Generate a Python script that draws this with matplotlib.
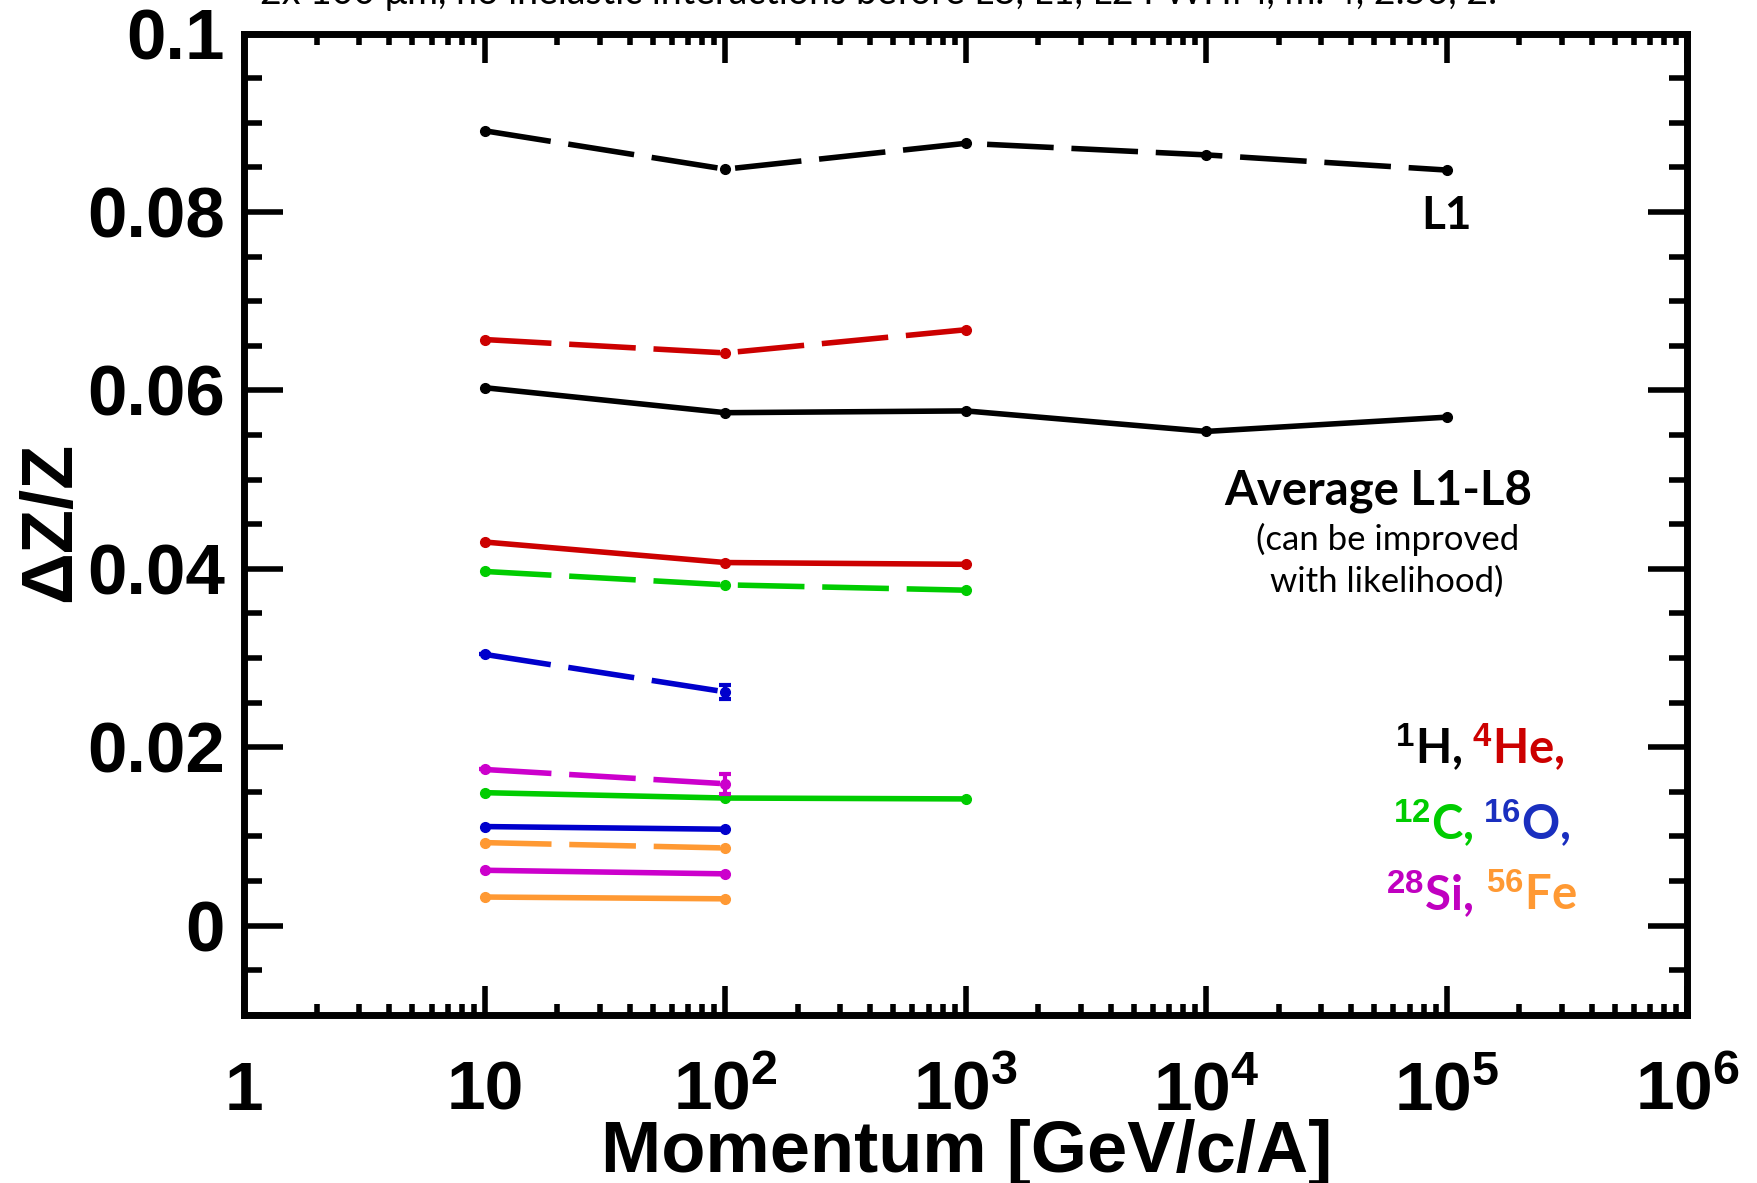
import matplotlib
matplotlib.use('Agg')
import matplotlib.pyplot as plt
from matplotlib.ticker import MultipleLocator, LogLocator

plt.rcParams['font.family'] = ['Liberation Sans', 'DejaVu Sans']
plt.rcParams['font.weight'] = 'bold'
plt.rcParams['mathtext.fontset'] = 'custom'
plt.rcParams['mathtext.rm'] = 'Liberation Sans:bold'
plt.rcParams['mathtext.bf'] = 'Liberation Sans:bold'
plt.rcParams['mathtext.it'] = 'Liberation Sans:bold'

momentum = [10, 100, 1e3, 1e4, 1e5]

# dZ/Z for L1 (dashed) and average L1-L8 (solid)
h_l1 = [0.0891, 0.0848, 0.0877, 0.0864, 0.0847]
h_avg = [0.0603, 0.0575, 0.0577, 0.0554, 0.0570]
he_l1 = [0.0657, 0.0642, 0.0668]
he_avg = [0.0430, 0.0407, 0.0405]
c_l1 = [0.0397, 0.0382, 0.0376]
c_avg = [0.0149, 0.0143, 0.0142]
o_l1 = [0.0304, 0.0262]
o_avg = [0.0111, 0.0108]
si_l1 = [0.0175, 0.0159]
si_avg = [0.0062, 0.0058]
fe_l1 = [0.0093, 0.0087]
fe_avg = [0.0032, 0.0030]

o_l1_err = [0.0, 0.0008]
si_l1_err = [0.0, 0.0011]

xtick_pos = [1, 10, 1e2, 1e3, 1e4, 1e5, 1e6]
xtick_labels = ['1', '10', r'$\mathbf{10^{2}}$', r'$\mathbf{10^{3}}$',
                r'$\mathbf{10^{4}}$', r'$\mathbf{10^{5}}$', r'$\mathbf{10^{6}}$']

series = [
    (h_l1, '#000000', 'dash', None),
    (h_avg, '#000000', 'solid', None),
    (he_l1, '#cc0000', 'dash', None),
    (he_avg, '#cc0000', 'solid', None),
    (c_l1, '#00cc00', 'dash', None),
    (c_avg, '#00cc00', 'solid', None),
    (o_l1, '#0000cc', 'dash', o_l1_err),
    (o_avg, '#0000cc', 'solid', None),
    (si_l1, '#cc00cc', 'dash', si_l1_err),
    (si_avg, '#cc00cc', 'solid', None),
    (fe_l1, '#ff9933', 'dash', None),
    (fe_avg, '#ff9933', 'solid', None),
]

fig = plt.figure(figsize=(17.58, 11.83), dpi=100)
ax = fig.add_axes([0.139, 0.1422, 0.8208, 0.8294])

for vals, col, style, err in series:
    xs = momentum[:len(vals)]
    if style == 'dash':
        ls = (0, (12, 3.2))
    else:
        ls = '-'
    ax.plot(xs, vals, color=col, lw=4, ls=ls, marker='o', ms=7, zorder=3)
    if err is not None:
        ax.errorbar(xs, vals, yerr=err, fmt='none', ecolor=col, elinewidth=3,
                    capsize=4, capthick=3, zorder=3)

ax.set_xscale('log')
ax.set_xlim(1, 1e6)
ax.set_ylim(-0.01, 0.1)
ax.yaxis.set_major_locator(MultipleLocator(0.02))
ax.yaxis.set_minor_locator(MultipleLocator(0.005))
ax.yaxis.set_major_formatter(matplotlib.ticker.FuncFormatter(lambda v, p: '%g' % round(v, 3)))
ax.xaxis.set_major_locator(LogLocator(base=10, numticks=10))
ax.xaxis.set_minor_locator(LogLocator(base=10, subs=range(2, 10), numticks=20))

for s in ax.spines.values():
    s.set_linewidth(5)

ax.tick_params(axis='y', which='major', direction='in', length=28, width=4,
               left=True, right=True, labelsize=51, pad=14)
ax.tick_params(axis='y', which='minor', direction='in', length=13, width=4,
               left=True, right=True)
ax.tick_params(axis='x', which='major', direction='in', length=21, width=4,
               bottom=True, top=True, labelbottom=False)
ax.tick_params(axis='x', which='minor', direction='in', length=8, width=4,
               bottom=True, top=True)

for xp, lab in zip(xtick_pos, xtick_labels):
    ax.text(xp, -0.097, lab, transform=ax.get_xaxis_transform(), ha='center',
            va='baseline', fontsize=50, fontweight='bold')

fig.text(0.5497, 0.0095, 'Momentum [GeV/c/A]', ha='center', va='baseline',
         fontsize=52, fontweight='bold')
fig.text(0.029, 0.559, 'ΔZ/Z', rotation=90, ha='center', va='center',
         fontsize=52, fontweight='bold')

fig.text(0.148, 0.9966, '2x 100 μm, no inelastic interactions before L8, L1, L2 FWHM, m. 4, 2.56, 2.',
         ha='left', va='baseline', fontsize=27, fontweight='normal', family='Lato')

lato = dict(family='Lato', transform=ax.transAxes)
ax.text(0.833, 0.801, 'L1', ha='center', va='baseline', fontsize=33,
        fontweight='bold', **lato)
ax.text(0.786, 0.52, 'Average L1-L8', ha='center', va='baseline', fontsize=34,
        fontweight='bold', **lato)
ax.text(0.792, 0.474, '(can be improved', ha='center', va='baseline', fontsize=25,
        fontweight='normal', **lato)
ax.text(0.792, 0.431, 'with likelihood)', ha='center', va='baseline', fontsize=25,
        fontweight='normal', **lato)

legend_parts = [
    (0.7972, 0.2563, r'$^{\mathbf{1}}$H,', '#000000'),
    (0.8505, 0.2563, r'$^{\mathbf{4}}$He,', '#cc0000'),
    (0.7962, 0.1783, r'$^{\mathbf{12}}$C,', '#00cc00'),
    (0.8586, 0.1783, r'$^{\mathbf{16}}$O,', '#1a2fbf'),
    (0.7910, 0.1067, r'$^{\mathbf{28}}$Si,', '#c000c0'),
    (0.8605, 0.1067, r'$^{\mathbf{56}}$Fe', '#ff9933'),
]
for xa, ya, txt, col in legend_parts:
    ax.text(xa, ya, txt, color=col, ha='left', va='baseline', fontsize=34,
            fontweight='bold', **lato)

fig.savefig('out.png', dpi=100)
